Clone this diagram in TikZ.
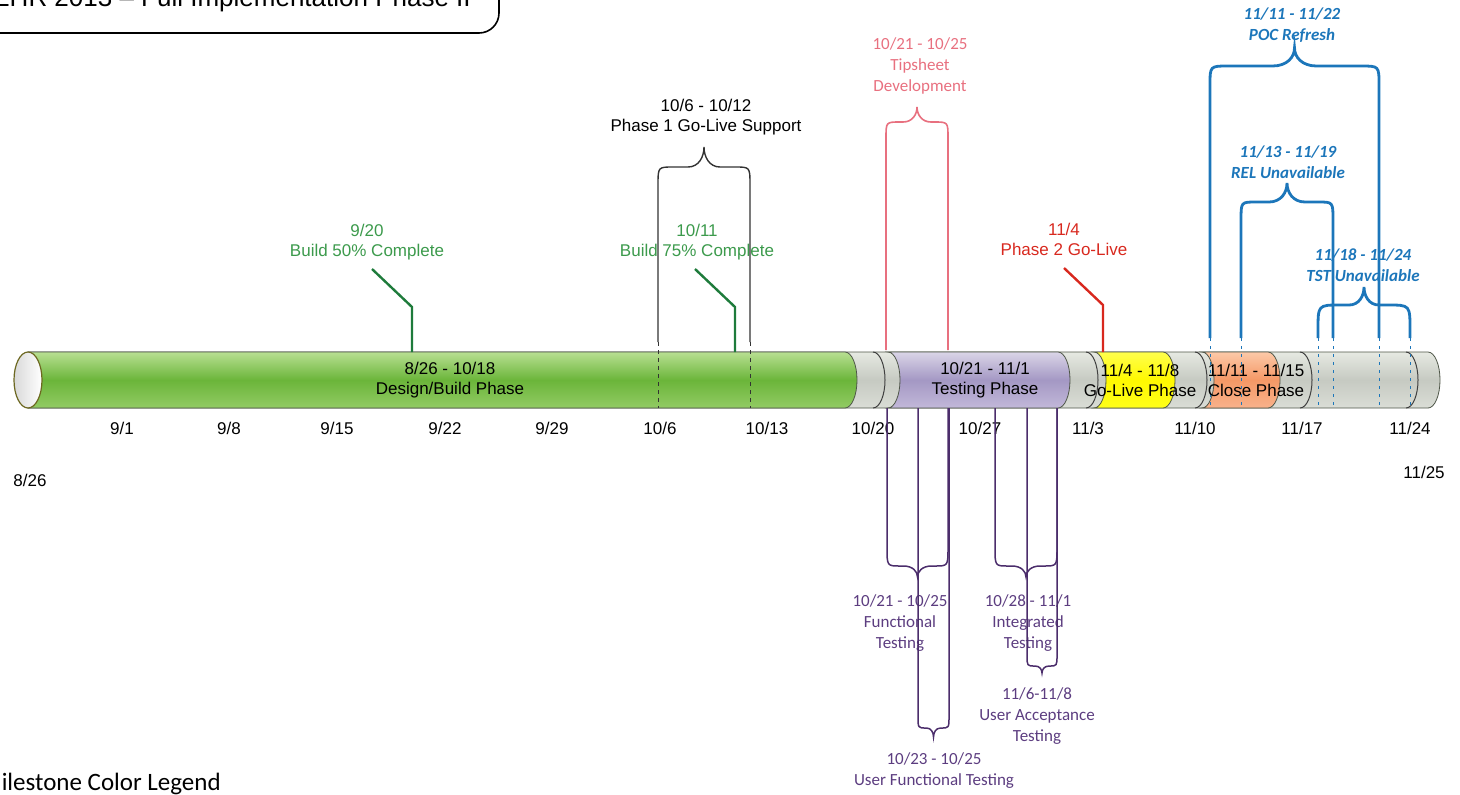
\documentclass[tikz,border=0pt]{standalone}
\usepackage{fontspec}
\setmainfont{Liberation Sans}
\newfontfamily\carlito{Carlito}

\definecolor{msgreen}{HTML}{1E7B3B}
\definecolor{txgreen}{HTML}{3C9A4C}
\definecolor{msred}{HTML}{D8281E}
\definecolor{tipink}{HTML}{E8707F}
\definecolor{envblue}{HTML}{1C76BA}
\definecolor{tstpurple}{HTML}{4B2D6B}
\definecolor{txpurple}{HTML}{5C3D80}
\definecolor{barline}{HTML}{4E5648}
\definecolor{grtop}{HTML}{B8DF92}
\definecolor{grmid}{HTML}{6BB53A}
\definecolor{grbot}{HTML}{92CB64}
\definecolor{gytop}{HTML}{E6E9E2}
\definecolor{gymid}{HTML}{C6CAC2}
\definecolor{gybot}{HTML}{DADDD6}
\definecolor{putop}{HTML}{DAD5E7}
\definecolor{pumid}{HTML}{A498C4}
\definecolor{pubot}{HTML}{C2B8D9}
\definecolor{ortop}{HTML}{FCC9A8}
\definecolor{ormid}{HTML}{F59866}
\definecolor{orbot}{HTML}{F8B28B}

% brace: x1, x2, leg end, shoulder, flat, tip, tip width, corner, style
\newcommand{\brc}[9]{%
  \draw[#9] (#1,#3) -- (#1,#4) .. controls (#1,#5) .. ({#1+#8},#5)
    -- ({(#1+#2)/2-#7},#5)
    .. controls ({(#1+#2)/2-#7/3},#5) and ({(#1+#2)/2},{(#5+#6)/2}) .. ({(#1+#2)/2},#6)
    .. controls ({(#1+#2)/2},{(#5+#6)/2}) and ({(#1+#2)/2+#7/3},#5) .. ({(#1+#2)/2+#7},#5)
    -- ({#2-#8},#5) .. controls (#2,#5) .. (#2,#4) -- (#2,#3);}

\begin{document}
\begin{tikzpicture}[x=0.5pt, y=-0.5pt,
    every node/.style={inner sep=0pt, align=center},
    lbl/.style={font=\fontsize{8.5}{10}\selectfont},
    clbl/.style={font=\carlito\fontsize{8.5}{10.5}\selectfont},
    bluelbl/.style={font=\carlito\bfseries\itshape\fontsize{8.5}{10.5}\selectfont, text=envblue},
    msline/.style={line width=1.2pt},
    grayseg/.style={top color=gytop, bottom color=gybot, middle color=gymid, draw=barline, line width=0.4pt},
    greenseg/.style={top color=grtop, bottom color=grbot, middle color=grmid, draw=barline, line width=0.4pt},
    purpleseg/.style={top color=putop, bottom color=pubot, middle color=pumid, draw=barline, line width=0.4pt},
    yellowseg/.style={top color=yellow!70!white, bottom color=yellow!90, middle color=yellow!95!orange, draw=barline, line width=0.4pt},
    orangeseg/.style={top color=ortop, bottom color=orbot, middle color=ormid, draw=barline, line width=0.4pt},
    sepline/.style={black!75, line width=0.5pt},
    blackbrace/.style={black!80, line width=0.7pt},
    pinkbrace/.style={tipink, line width=0.8pt},
    bluebrace/.style={envblue, line width=1.4pt},
    purplebrace/.style={tstpurple, line width=0.75pt}]

\useasboundingbox (0,0) rectangle (1460,794);
\clip (0,0) rectangle (1460,794);

% title box
\draw[line width=0.8pt, rounded corners=10pt] (-30,-60) rectangle (499,33);
\node[anchor=base west, font=\fontsize{13}{15}\selectfont] (title) at (-8,6) {EHR 2013 -- Full Implementation Phase II};

% the bar
\path[grayseg] (28,352) -- (1428,352) arc[start angle=90, end angle=-90, x radius=6pt, y radius=14pt] -- (28,408) -- cycle;
\path[greenseg] (28,352) -- (845,352) arc[start angle=90, end angle=-90, x radius=6pt, y radius=14pt] -- (28,408) -- cycle;
\path[purpleseg] (888,352) -- (1058,352) arc[start angle=90, end angle=-90, x radius=6pt, y radius=14pt]
  -- (888,408) arc[start angle=-90, end angle=90, x radius=6pt, y radius=14pt] -- cycle;
\path[yellowseg] (1094,352) -- (1163,352) arc[start angle=90, end angle=-90, x radius=6pt, y radius=14pt]
  -- (1094,408) arc[start angle=-90, end angle=90, x radius=6pt, y radius=14pt] -- cycle;
\path[orangeseg] (1202,352) -- (1268,352) arc[start angle=90, end angle=-90, x radius=6pt, y radius=14pt]
  -- (1202,408) arc[start angle=-90, end angle=90, x radius=6pt, y radius=14pt] -- cycle;
\foreach \s in {873,1086,1195,1300,1406}
  \draw[sepline] (\s,352) arc[start angle=90, end angle=-90, x radius=6pt, y radius=14pt];
\draw[draw=olive!70!black, line width=0.6pt, left color=black!15, right color=white] (28,380) ellipse[x radius=7pt, y radius=14pt];

\draw[black!80, line width=0.5pt, dash pattern=on 2pt off 2pt] (658,342) -- (658,408) (750,342) -- (750,408);
\foreach \x in {1210,1241,1318,1333,1379,1410}
  \draw[envblue, line width=0.5pt, dash pattern=on 1.5pt off 2.5pt] (\x,338) -- (\x,408);

\node[lbl] (pdesign) at (450,380) {8/26 - 10/18\\Design/Build Phase};
\node[lbl] (ptest) at (985,380) {10/21 - 11/1\\Testing Phase};
\node[lbl] (pgolive) at (1140,380) {11/4 - 11/8\\Go-Live Phase};
\node[lbl] (pclose) at (1256,380) {11/11 - 11/15\\Close Phase};

% weeks
\node[lbl] (wstart) at (30,480) {8/26};
\node[lbl] (w1) at (122,428) {9/1};
\node[lbl] (w2) at (229,428) {9/8};
\node[lbl] (w3) at (337,428) {9/15};
\node[lbl] (w4) at (445,428) {9/22};
\node[lbl] (w5) at (552,428) {9/29};
\node[lbl] (w6) at (660,428) {10/6};
\node[lbl] (w7) at (767,428) {10/13};
\node[lbl] (w8) at (873,428) {10/20};
\node[lbl] (w9) at (980,428) {10/27};
\node[lbl] (w10) at (1088,428) {11/3};
\node[lbl] (w11) at (1195,428) {11/10};
\node[lbl] (w12) at (1302,428) {11/17};
\node[lbl] (w13) at (1410,428) {11/24};
\node[lbl] (wend) at (1424,472) {11/25};

% milestones
\node[lbl, text=txgreen] (m50) at (367,242) {9/20\\Build 50\% Complete};
\node[lbl, text=txgreen] (m75) at (697,242) {10/11\\Build 75\% Complete};
\node[lbl, text=msred] (mlive) at (1064,239) {11/4\\Phase 2 Go-Live};
\coordinate (c50) at (412,352);
\coordinate (c75) at (735,352);
\coordinate (clive) at (1103,352);
\draw[msline, msgreen] (c50) -- ++(0,-45) -- ++(-40,-38);
\draw[msline, msgreen] (c75) -- ++(0,-45) -- ++(-40,-38);
\draw[msline, msred] (clive) -- ++(0,-47) -- ++(-39,-37);

% braces above
\node[lbl] (bsupport) at (706,117) {10/6 - 10/12\\Phase 1 Go-Live Support};
\brc{658}{750}{342}{185}{167}{147}{16}{15}{blackbrace}
\node[clbl, text=tipink] (btip) at (920,66) {10/21 - 10/25\\Tipsheet\\Development};
\brc{886}{948}{350}{138}{122}{107}{14}{14}{pinkbrace}
\node[bluelbl] (bpoc) at (1292,25) {11/11 - 11/22\\POC Refresh};
\brc{1210}{1379}{338}{85}{66}{48}{22}{18}{bluebrace}
\node[bluelbl] (brel) at (1288,162) {11/13 - 11/19\\REL Unavailable};
\brc{1241}{1333}{338}{220}{202}{183}{18}{15}{bluebrace}
\node[bluelbl] (btst) at (1363,265) {11/18 - 11/24\\TST Unavailable};
\brc{1318}{1410}{338}{330}{305}{287}{15}{22}{bluebrace}

% braces below
\node[clbl, text=txpurple] (bft) at (900,623) {10/21 - 10/25\\Functional\\Testing};
\node[clbl, text=txpurple] (bit) at (1028,623) {10/28 - 11/1\\Integrated\\Testing};
\node[clbl, text=txpurple] (buat) at (1037,716) {11/6-11/8\\User Acceptance\\Testing};
\node[clbl, text=txpurple] (buft) at (934,771) {10/23 - 10/25\\User Functional Testing};
\brc{887}{948}{408}{547}{566}{577}{14}{13}{purplebrace}
\brc{995}{1057}{408}{547}{566}{577}{14}{13}{purplebrace}
\brc{918}{949}{408}{716}{728}{737}{7}{8}{purplebrace}
\brc{1027}{1057}{408}{655}{666}{673}{7}{8}{purplebrace}

\node[anchor=base west, font=\carlito\fontsize{12.5}{14}\selectfont] (legend) at (-20,790) {Milestone Color Legend};
\end{tikzpicture}
\end{document}
